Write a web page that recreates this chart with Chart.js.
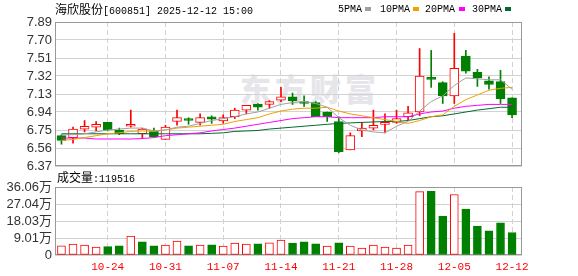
<!DOCTYPE html>
<html><head><meta charset="utf-8">
<script src="https://cdn.jsdelivr.net/npm/chart.js@4"></script>
<style>
html,body{margin:0;padding:0;background:#fff;width:578px;height:276px;overflow:hidden;}
#wrap{position:relative;width:578px;height:276px;}
canvas{position:absolute;left:0;top:0;}
.t{position:absolute;white-space:pre;color:#000;line-height:12px;height:12px;}
.cjk{font-family:"Noto Sans CJK SC";font-size:12px;}
.mono{font-family:"Liberation Mono";font-size:10px;}
.sw{position:absolute;width:6px;height:4px;}
#wm{position:absolute;left:240px;top:70px;font-family:"Noto Sans CJK SC";font-weight:900;font-size:31px;line-height:36px;color:#e6e6ea;letter-spacing:4px;white-space:pre;}
</style></head>
<body><div id="wrap">
<div id="wm">东方财富</div>
<canvas id="pc" width="578" height="276"></canvas>
<canvas id="vc" width="578" height="276"></canvas>
<div class="t" style="left:55px;top:3px;"><span class="cjk">海欣股份</span><span class="mono">[600851] 2025-12-12 15:00</span></div>
<div class="t mono" style="left:338px;top:4px;">5PMA</div><div class="sw" style="left:365px;top:7px;background:#a0a0a0"></div>
<div class="t mono" style="left:380px;top:4px;">10PMA</div><div class="sw" style="left:413px;top:7px;background:#f0a000"></div>
<div class="t mono" style="left:425px;top:4px;">20PMA</div><div class="sw" style="left:459px;top:7px;background:#ff00ff"></div>
<div class="t mono" style="left:472px;top:4px;">30PMA</div><div class="sw" style="left:505px;top:7px;background:#006a30"></div>
<div class="t" style="left:57px;top:171px;"><span class="cjk">成交量</span><span class="mono">:119516</span></div>
</div>
<script>
const dates = ['10-20','10-21','10-22','10-23','10-24','10-27','10-28','10-29','10-30','10-31',
  '11-03','11-04','11-05','11-06','11-07','11-10','11-11','11-12','11-13','11-14',
  '11-17','11-18','11-19','11-20','11-21','11-24','11-25','11-26','11-27','11-28',
  '12-01','12-02','12-03','12-04','12-05','12-08','12-09','12-10','12-11','12-12'];
const openP  = [6.69,6.67,6.76,6.78,6.83,6.75,6.79,6.71,6.74,6.65,6.84,6.87,6.83,6.89,6.845,6.89,6.96,7.02,7.02,7.065,7.10,7.05,7.04,6.94,6.84,6.54,6.74,6.77,6.81,6.83,6.89,6.94,7.30,7.25,7.11,7.53,7.36,7.27,7.26,7.09];
const closeP = [6.64,6.76,6.79,6.81,6.75,6.71,6.81,6.76,6.68,6.78,6.88,6.85,6.88,6.865,6.88,6.96,7.01,6.99,7.05,7.10,7.06,7.03,6.89,6.89,6.52,6.69,6.77,6.80,6.83,6.87,6.93,7.32,7.285,7.11,7.40,7.37,7.30,7.23,7.08,6.91];
const highP  = [6.70,6.78,6.85,6.84,6.83,6.77,6.96,6.77,6.77,6.80,6.96,6.88,6.92,6.90,6.91,6.98,7.01,7.03,7.06,7.20,7.14,7.11,7.05,6.94,6.89,6.72,6.83,6.96,6.92,6.96,7.00,7.61,7.59,7.26,7.77,7.59,7.39,7.31,7.38,7.09];
const lowP   = [6.60,6.61,6.73,6.74,6.74,6.70,6.78,6.66,6.68,6.65,6.80,6.81,6.80,6.82,6.82,6.87,6.92,6.96,6.98,7.05,7.02,7.00,6.89,6.84,6.51,6.54,6.68,6.75,6.72,6.82,6.86,6.90,7.20,7.03,7.03,7.35,7.21,7.18,7.03,6.88];
const ma5  = [6.70,6.70,6.71,6.73,6.75,6.76,6.77,6.77,6.74,6.75,6.78,6.79,6.82,6.85,6.87,6.89,6.92,6.94,6.98,7.02,7.04,7.05,7.03,6.99,6.88,6.80,6.75,6.73,6.72,6.79,6.84,6.95,7.05,7.11,7.22,7.30,7.29,7.28,7.28,7.18];
const ma10 = [6.64,6.65,6.67,6.69,6.71,6.72,6.735,6.74,6.735,6.75,6.77,6.78,6.79,6.80,6.81,6.84,6.86,6.88,6.92,6.95,6.97,6.98,6.98,6.99,6.95,6.92,6.90,6.88,6.86,6.84,6.82,6.85,6.89,6.91,7.00,7.07,7.12,7.17,7.19,7.20];
const ma20 = [6.665,6.665,6.665,6.655,6.655,6.655,6.655,6.66,6.67,6.69,6.70,6.71,6.72,6.74,6.755,6.77,6.79,6.81,6.83,6.85,6.87,6.88,6.89,6.89,6.88,6.88,6.88,6.88,6.89,6.89,6.89,6.92,6.94,6.95,6.98,7.00,7.01,7.02,7.02,7.02];
const ma30 = [6.71,6.71,6.71,6.71,6.71,6.71,6.71,6.71,6.71,6.71,6.71,6.71,6.71,6.715,6.72,6.735,6.74,6.745,6.76,6.77,6.78,6.79,6.80,6.81,6.82,6.825,6.83,6.835,6.84,6.84,6.85,6.87,6.89,6.90,6.92,6.94,6.96,6.975,6.99,6.99];
const volume = [49000,58000,53000,42000,44000,49000,100000,70000,49000,53000,74000,49000,53000,54000,47000,63000,58000,59000,65000,79000,63000,70000,59000,47000,65000,47000,37000,53000,42000,37000,53000,336000,338000,207000,321000,243000,154000,128000,170000,119516];
const volDir = [1,1,1,1,-1,-1,1,-1,-1,1,1,-1,1,-1,1,1,1,-1,1,1,-1,-1,-1,1,-1,1,1,1,1,1,1,1,-1,-1,1,-1,-1,-1,-1,-1];
const priceTicks = [6.37,6.56,6.75,6.94,7.13,7.32,7.51,7.70,7.89];
const volTicks = [0,90150,180300,270400,360600];
const volTickLabels = ['0','9.01万','18.03万','27.04万','36.06万'];
const dateTickIdx = [4,9,14,19,24,29,34,39];

const RED = '#ff0000', GRN = '#008000';
const GRID = '#d2d2d2';
const up = closeP.map((c,i)=> c >= openP[i]);

const framePlugin = {id:'frame', beforeDatasetsDraw(chart){
  const {ctx, chartArea:a} = chart;
  ctx.save(); ctx.strokeStyle = '#999'; ctx.lineWidth = 1;
  ctx.strokeRect(Math.round(a.left)+0.5, Math.round(a.top)+0.5, Math.round(a.right-a.left)-1, Math.round(a.bottom-a.top)-1);
  ctx.restore();
}};

const xCommon = (showLabels) => ({
  type:'linear', min:-0.56, max:39.86, offset:false,
  afterBuildTicks: s => { s.ticks = dateTickIdx.map(v=>({value:v})); },
  grid:{color:GRID, drawTicks:false, lineWidth:1, offset:false},
  border:{display:false, dash:[5,3]},
  ticks:{display:showLabels, autoSkip:false, maxRotation:0, padding:5, color:RED,
    font:{family:'Liberation Mono', size:11}, callback: v => dates[v] || ''},
  afterFit: s => { s.height = showLabels ? 21 : 0; }
});

const yFont = {family:'Liberation Sans, Noto Sans CJK SC', size:13};

new Chart(document.getElementById('pc'), {
  data:{ datasets:[
    {type:'line', label:'5PMA', data: ma5.map((v,i)=>({x:i,y:v})), borderColor:'#a0a0a0', borderWidth:1, pointRadius:0, tension:0, order:0},
    {type:'line', label:'10PMA', data: ma10.map((v,i)=>({x:i,y:v})), borderColor:'#f0a000', borderWidth:1, pointRadius:0, tension:0, order:0},
    {type:'line', label:'20PMA', data: ma20.map((v,i)=>({x:i,y:v})), borderColor:'#ff00ff', borderWidth:1, pointRadius:0, tension:0, order:0},
    {type:'line', label:'30PMA', data: ma30.map((v,i)=>({x:i,y:v})), borderColor:'#006a30', borderWidth:1, pointRadius:0, tension:0, order:0},
    {type:'bar', label:'body', data: openP.map((o,i)=>({x:i, y:[o, closeP[i]]})),
      backgroundColor: up.map(u=>u?'#ffffff':GRN), borderColor: up.map(u=>u?RED:GRN),
      borderWidth:1, borderSkipped:false, barThickness:9, minBarLength:2, grouped:false, order:1},
    {type:'bar', label:'wick', data: lowP.map((l,i)=>({x:i, y:[l, highP[i]]})),
      backgroundColor: up.map(u=>u?RED:GRN), borderWidth:0, barThickness:1, grouped:false, order:2}
  ]},
  options:{
    responsive:false, animation:false, events:[],
    layout:{padding:{left:0, right:56, top:22, bottom:110}},
    plugins:{legend:{display:false}, tooltip:{enabled:false}},
    scales:{
      x: xCommon(false),
      y:{type:'linear', min:6.37, max:7.89,
        afterBuildTicks: s => { s.ticks = priceTicks.map(v=>({value:v})); },
        grid:{color:GRID, drawTicks:false},
        border:{display:false},
        ticks:{color:'#333', font:yFont, padding:3, autoSkip:false, callback: v => v.toFixed(2)},
        afterFit: s => { s.width = 55; }
      }
    }
  },
  plugins:[framePlugin]
});

new Chart(document.getElementById('vc'), {
  data:{ datasets:[
    {type:'bar', label:'成交量', data: volume.map((v,i)=>({x:i, y:v})),
      backgroundColor: volDir.map(d=>d>0?'#ffffff':GRN), borderColor: volDir.map(d=>d>0?RED:GRN),
      borderWidth:1, borderSkipped:false, barThickness:8, grouped:false}
  ]},
  options:{
    responsive:false, animation:false, events:[],
    layout:{padding:{left:0, right:56, top:187, bottom:0}},
    plugins:{legend:{display:false}, tooltip:{enabled:false}},
    scales:{
      x: xCommon(true),
      y:{type:'linear', min:0, max:360600,
        afterBuildTicks: s => { s.ticks = volTicks.map(v=>({value:v})); },
        grid:{color:GRID, drawTicks:false},
        border:{display:false},
        ticks:{color:'#333', font:yFont, padding:3, autoSkip:false, callback: (v,i) => volTickLabels[volTicks.indexOf(v)]},
        afterFit: s => { s.width = 55; }
      }
    }
  },
  plugins:[framePlugin]
});
</script>
</body></html>
